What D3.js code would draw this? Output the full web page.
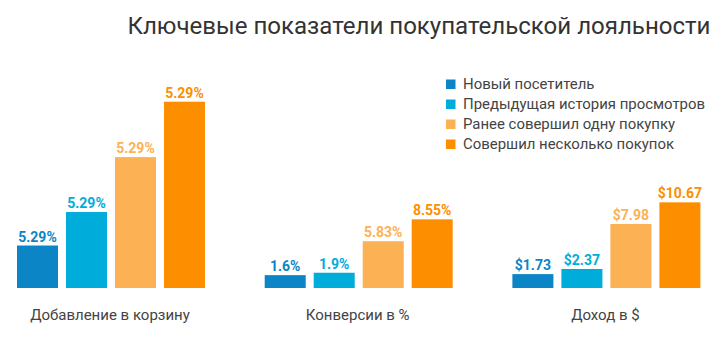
<!DOCTYPE html>
<html>
<head>
<meta charset="utf-8">
<script src="https://cdn.jsdelivr.net/npm/d3@7"></script>
<style>
  html, body { margin: 0; padding: 0; background: #ffffff; }
  svg { display: block; font-family: Roboto, "Noto Sans", sans-serif; }
</style>
</head>
<body>
<svg id="chart" width="722" height="337"></svg>
<script>
const title = "Ключевые показатели покупательской лояльности";
const categories = ["Добавление в корзину", "Конверсии в %", "Доход в $"];
const seriesNames = ["Новый посетитель", "Предыдущая история просмотров", "Ранее совершил одну покупку", "Совершил несколько покупок"];
const seriesColors = ["#0b85c5", "#00acd9", "#fdb155", "#fd8e00"];
const cartValues = [5.29, 9.46, 16.3, 23.2];
const cartLabels = ["5.29%", "5.29%", "5.29%", "5.29%"];
const conversionValues = [1.6, 1.9, 5.83, 8.55];
const conversionLabels = ["1.6%", "1.9%", "5.83%", "8.55%"];
const revenueValues = [1.73, 2.37, 7.98, 10.67];
const revenueLabels = ["$1.73", "$2.37", "$7.98", "$10.67"];

const groups = [
  { name: categories[0], values: cartValues, labels: cartLabels },
  { name: categories[1], values: conversionValues, labels: conversionLabels },
  { name: categories[2], values: revenueValues, labels: revenueLabels }
];

const svg = d3.select("#chart");

svg.append("text")
  .attr("x", 127.5).attr("y", 33.5)
  .attr("font-size", 24).attr("fill", "#333")
  .attr("textLength", 583).attr("lengthAdjust", "spacingAndGlyphs")
  .text(title);

const x0 = d3.scaleBand().domain(categories).range([17, 17 + 3 * 247.7]);
const x1 = d3.scaleBand().domain(seriesNames).range([0, 188]).paddingInner(0.163).paddingOuter(0);
const y = d3.scaleLinear().domain([0, 25]).range([288, 87.25]);

const gg = svg.selectAll("g.grp").data(groups).join("g")
  .attr("class", "grp")
  .attr("transform", d => `translate(${x0(d.name)},0)`);

gg.selectAll("rect").data(d => d.values.map((v, i) => ({ v, i, s: seriesNames[i] })))
  .join("rect")
  .attr("x", d => x1(d.s))
  .attr("y", d => y(d.v))
  .attr("width", x1.bandwidth())
  .attr("height", d => y(0) - y(d.v))
  .attr("fill", d => seriesColors[d.i]);

gg.selectAll("text.val").data(d => d.values.map((v, i) => ({ v, i, s: seriesNames[i], label: d.labels[i] })))
  .join("text")
  .attr("class", "val")
  .attr("x", d => x1(d.s) + x1.bandwidth() / 2)
  .attr("y", d => y(d.v) - 4)
  .attr("text-anchor", "middle")
  .attr("font-size", 14).attr("font-weight", "bold")
  .attr("fill", d => seriesColors[d.i])
  .text(d => d.label);

gg.append("text")
  .attr("x", 188 / 2 - 1).attr("y", 320)
  .attr("text-anchor", "middle")
  .attr("font-size", 15).attr("fill", "#444")
  .text(d => d.name);

const legend = svg.append("g").attr("transform", "translate(446,79.5)");
const li = legend.selectAll("g").data(seriesNames).join("g")
  .attr("transform", (d, i) => `translate(0,${i * 20})`);
li.append("rect").attr("width", 9.5).attr("height", 9.5).attr("fill", (d, i) => seriesColors[i]);
const lt = li.append("text")
  .attr("x", 17).attr("y", 9.5)
  .attr("font-size", 14).attr("fill", "#444").text(d => d);
const lens = lt.nodes().map(n => n.getComputedTextLength());
const factor = 242 / d3.max(lens);
lt.attr("textLength", (d, i) => lens[i] * factor).attr("lengthAdjust", "spacingAndGlyphs");
</script>
</body>
</html>
